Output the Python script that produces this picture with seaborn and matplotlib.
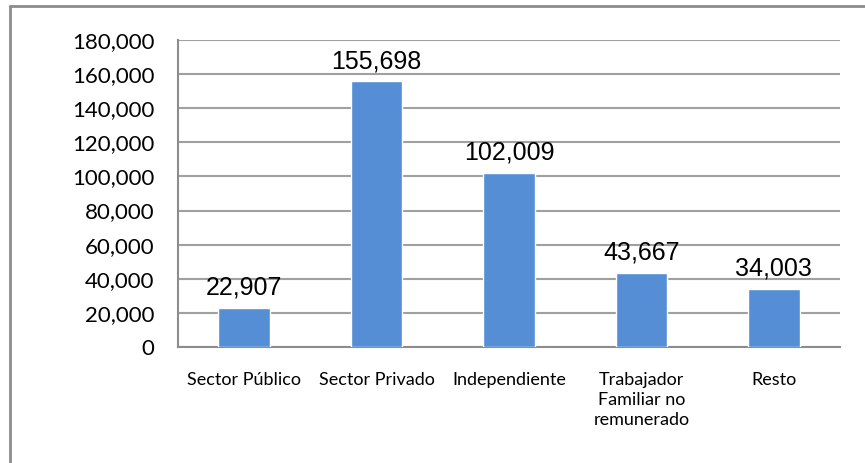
import pandas as pd
import matplotlib.pyplot as plt
import seaborn as sns
from matplotlib.lines import Line2D
from matplotlib.ticker import FuncFormatter

categorias = ['Sector Público', 'Sector Privado', 'Independiente',
              'Trabajador\nFamiliar no\nremunerado', 'Resto']
valores = [22907, 155698, 102009, 43667, 34003]

df = pd.DataFrame({'categoria': categorias, 'valor': valores})

sns.set_theme(style='white')
plt.rcParams['font.family'] = ['Lato', 'DejaVu Sans']

fig = plt.figure(figsize=(8.65, 4.63), dpi=100)
ax = fig.add_axes([178 / 865, 1 - 347 / 463, (840 - 178) / 865, (347 - 40) / 463])

sns.barplot(data=df, x='categoria', y='valor', color='#558ed5', width=0.39,
            saturation=1, edgecolor='white', linewidth=1.0, ax=ax, zorder=3)

ax.set_ylim(0, 180000)
ax.set_yticks(range(0, 180001, 20000))
ax.yaxis.set_major_formatter(FuncFormatter(lambda v, p: f'{int(v):,}'))
ax.grid(axis='y', color='#a0a0a0', linewidth=1.5, zorder=0)
ax.set_axisbelow(True)
ax.set_xlabel('')
ax.set_ylabel('')
ax.tick_params(axis='y', labelsize=16, length=0, pad=17, colors='black')
ax.tick_params(axis='x', labelsize=13, length=0, pad=18, colors='black')
for lab in ax.get_xticklabels():
    lab.set_linespacing(1.3)
    lab.set_verticalalignment('top')

for s in ['top', 'right']:
    ax.spines[s].set_visible(False)
for s in ['left', 'bottom']:
    ax.spines[s].set_color('#8c8c8c')
    ax.spines[s].set_linewidth(1.5)

for i, v in enumerate(valores):
    ax.annotate(f'{v:,}', (i, v), xytext=(0, 6), textcoords='offset points',
                ha='center', va='bottom', fontsize=18,
                family=['Liberation Sans', 'DejaVu Sans'], color='black')

# marco exterior del grafico
fig.add_artist(Line2D([10 / 865, 10 / 865], [0, 1 - 6 / 463],
                      transform=fig.transFigure, color='#8c8c8c', lw=2))
fig.add_artist(Line2D([10 / 865, 1], [1 - 6 / 463, 1 - 6 / 463],
                      transform=fig.transFigure, color='#8c8c8c', lw=2))

plt.savefig('out.png', dpi=100)
